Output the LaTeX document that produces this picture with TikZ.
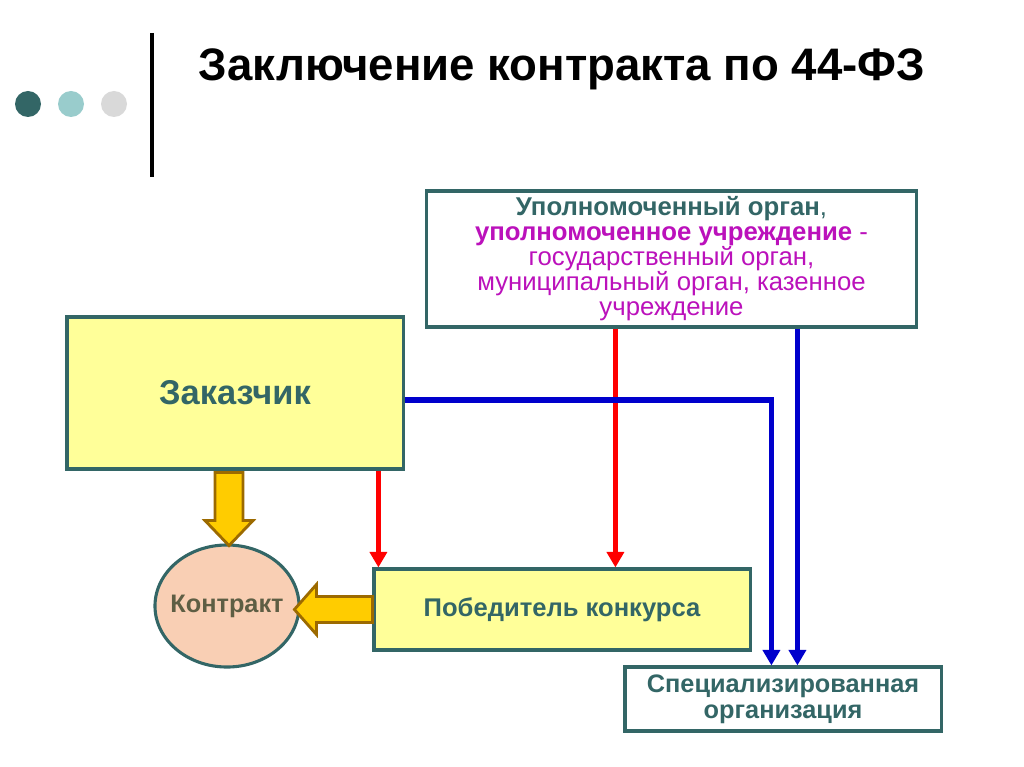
\documentclass[tikz,border=0pt]{standalone}
\usepackage{fontspec}
\setmainfont{Liberation Sans}
\usetikzlibrary{shapes.geometric, positioning, calc, arrows.meta}

\definecolor{darkteal}{HTML}{336666}
\definecolor{paleteal}{HTML}{99CCCC}
\definecolor{palegrey}{HTML}{D9D9D9}
\definecolor{paleyellow}{HTML}{FFFF99}
\definecolor{peach}{HTML}{F9CFB4}
\definecolor{magtext}{HTML}{BB11BB}
\definecolor{olivetext}{HTML}{5E5E44}
\definecolor{goldfill}{HTML}{FFCC00}
\definecolor{goldline}{HTML}{9C6A00}
\definecolor{arrowblue}{HTML}{0000CC}

\begin{document}
\begin{tikzpicture}[x=0.025cm, y=-0.025cm]
    \tikzstyle{block} = [rectangle, draw=darkteal, line width=2.2pt, fill=paleyellow, text=darkteal, align=center, inner sep=0pt]
    \tikzstyle{whitebox} = [block, fill=white]
    \tikzstyle{redarrow} = [draw=red, line width=3.2pt, -{Triangle[length=11pt, width=12pt]}]
    \tikzstyle{bluearrow} = [draw=arrowblue, line width=3.8pt, -{Triangle[length=11pt, width=12pt]}]
    \tikzstyle{fatarrow} = [draw=goldline, line width=2pt, fill=goldfill, line join=miter]

    \useasboundingbox (0,0) rectangle (1024,767);

    % Title
    \fill[darkteal] (28,104) circle (13);
    \fill[paleteal] (71,104) circle (13);
    \fill[palegrey] (114,104) circle (13);
    \draw[line width=3pt] (152,33) -- (152,177);
    \node (title) at (562,69) {\fontsize{32.4}{38}\selectfont\bfseries Заключение контракта по 44-ФЗ};

    % Authority
    \node[whitebox, minimum width=12.225cm, minimum height=3.4cm, text=magtext, font=\fontsize{18.3}{17.8}\selectfont] (upo) at (671.5,259)
        {{\bfseries\color{darkteal}Уполномоченный орган}{\color{darkteal},}\\
         {\bfseries уполномоченное учреждение} -\\
         государственный орган,\\
         муниципальный орган, казенное\\
         учреждение};

    % Customer
    \node[block, minimum width=8.4cm, minimum height=3.8cm, font=\fontsize{24.5}{28}\selectfont\bfseries] (zak) at (235,393) {Заказчик};

    % Contract
    \node[ellipse, draw=darkteal, line width=2.2pt, fill=peach, text=olivetext, minimum width=3.6cm, minimum height=3.05cm, inner sep=0pt, font=\fontsize{18}{20}\selectfont\bfseries] (kon) at (227,606) {\makebox[0pt]{Контракт}};

    % Winner
    \node[block, minimum width=9.4cm, minimum height=2.025cm, font=\fontsize{18.2}{20}\selectfont\bfseries] (pob) at (562,609.5) {Победитель конкурса};

    % Specialised organisation
    \node[whitebox, minimum width=7.9cm, minimum height=1.6cm, font=\fontsize{18}{18.2}\selectfont\bfseries] (spec) at (783,699) {Специализированная\\организация};

    % Block arrows
    \draw[fatarrow] ($(zak.south)+(-20,2)$) -- ++(28,0) -- ++(0,48) -- ++(10,0) -- ++(-24,25) -- ++(-24,-25) -- ++(10,0) -- cycle;
    \draw[fatarrow] ($(pob.west)+(0,-13)$) -- ++(-56,0) -- ++(0,-12) -- ++(-22,25) -- ++(22,25) -- ++(0,-12) -- ++(56,0) -- cycle;

    % Red arrows
    \coordinate (r1) at ($(pob.north west)+(6,0)$);
    \coordinate (r2) at ($(pob.north west)+(243,0)$);
    \draw[redarrow] (r1 |- zak.south) -- (r1);
    \draw[redarrow] (r2 |- upo.south) -- (r2);

    % Blue arrows
    \coordinate (b1) at ($(spec.north west)+(148,0)$);
    \coordinate (b2) at ($(spec.north west)+(174,0)$);
    \draw[bluearrow] ($(zak.east)+(0,7)$) -| (b1);
    \draw[bluearrow] (b2 |- upo.south) -- (b2);
\end{tikzpicture}
\end{document}
